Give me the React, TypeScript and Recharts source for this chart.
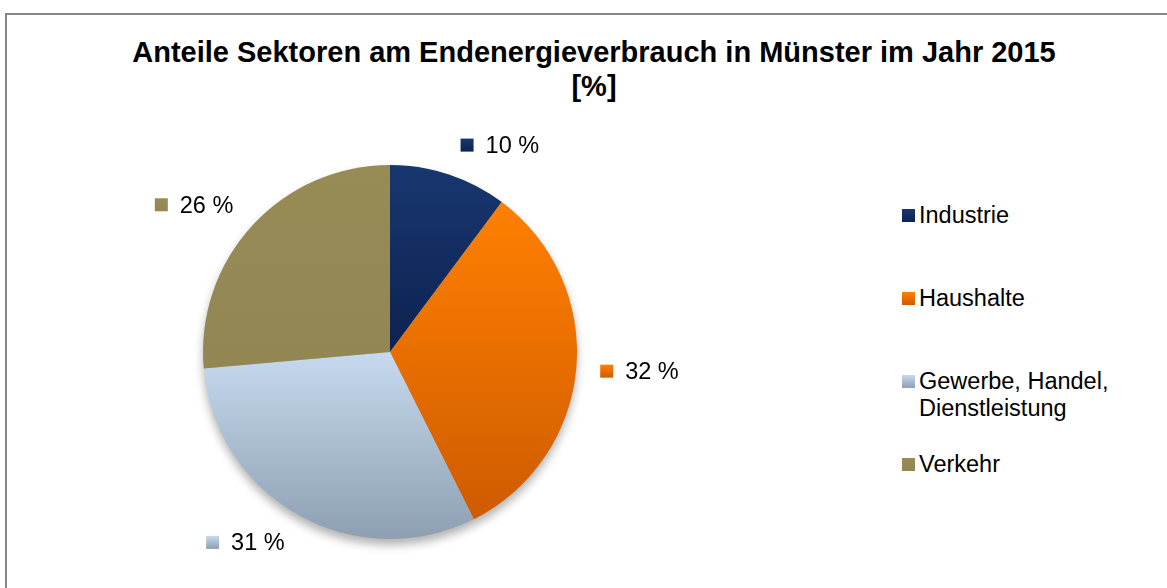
import React from 'react';
import { PieChart, Pie, Cell, Legend } from 'recharts';

// Endenergieverbrauch Münster 2015, Anteile in %
const sectors = ['Industrie', 'Haushalte', 'Gewerbe, Handel, Dienstleistung', 'Verkehr'];
const shares = [10.2, 32.4, 31.0, 26.4];

const topColors = ['#18376f', '#ff8000', '#c6d9ee', '#978c56'];
const bottomColors = ['#0d2251', '#cf5b00', '#8e9fb2', '#928753'];

const W = 1167;
const H = 588;
const CX = 390;
const CY = 352;
const R = 187;
const FONT = '"Liberation Sans", Arial, sans-serif';

const pieData = sectors.map((name, i) => ({ name, value: shares[i] }));

const RAD = Math.PI / 180;

// label block (marker + text) sits just outside the rim, pushed away sideways
const renderLabel = (props: any) => {
  const { cx, cy, midAngle, outerRadius, index, value } = props;
  const dx = Math.cos(-midAngle * RAD);
  const dy = Math.sin(-midAngle * RAD);
  const px = cx + (outerRadius + 18) * dx;
  const py = cy + (outerRadius + 18) * dy;
  const w = 78;
  const h = 26;
  const centerX = px + Math.sign(dx) * (w / 2 + 6);
  const centerY = py + dy * h / 2;
  const bx = centerX - w / 2;
  return (
    <g key={`lbl-${index}`}>
      <rect x={bx} y={centerY - 6.5} width={13} height={13} fill={`url(#grad-${index})`} />
      <text
        x={bx + 25}
        y={centerY}
        dominantBaseline="central"
        fontFamily={FONT}
        fontSize={23.5}
        fill="#000"
      >
        {`${Math.round(value)} %`}
      </text>
    </g>
  );
};

const renderLegend = () => (
  <div style={{ fontFamily: FONT, fontSize: 23.5, color: '#000' }}>
    {sectors.map((name, i) => (
      <div key={name} style={{ height: 83, display: 'flex', alignItems: 'flex-start' }}>
        <span
          style={{
            display: 'inline-block',
            width: 13,
            height: 13,
            marginTop: 7,
            marginLeft: 2,
            marginRight: 4,
            flex: 'none',
            background: `linear-gradient(${topColors[i]}, ${bottomColors[i]})`
          }}
        />
        <span style={{ lineHeight: '27px', maxWidth: 230 }}>{name}</span>
      </div>
    ))}
  </div>
);

export default function App() {
  return (
    <div style={{ position: 'absolute', left: 0, top: 0, width: W, height: H, overflow: 'hidden', background: '#fff' }}>
      <svg width={0} height={0} style={{ position: 'absolute' }}>
        <defs>
          {sectors.map((_, i) => (
            <linearGradient key={i} id={`grad-${i}`} x1="0" y1="0" x2="0" y2="1">
              <stop offset="0%" stopColor={topColors[i]} />
              <stop offset="100%" stopColor={bottomColors[i]} />
            </linearGradient>
          ))}
          <filter id="pieShadow" x="-20%" y="-20%" width="140%" height="140%">
            <feOffset dx="0" dy="3" />
            <feGaussianBlur stdDeviation="3" />
          </filter>
        </defs>
      </svg>
      <style>{`.pie-shadow { filter: url(#pieShadow); }`}</style>

      {/* chart frame, runs off the right and bottom edges */}
      <div
        style={{
          position: 'absolute',
          left: 5,
          top: 13,
          width: W + 20,
          height: H + 20,
          borderTop: '2px solid #878787',
          borderLeft: '2px solid #878787'
        }}
      />

      <div
        style={{
          position: 'absolute',
          left: 0,
          top: 35,
          width: 1188,
          textAlign: 'center',
          fontFamily: FONT,
          fontWeight: 'bold',
          fontSize: 29,
          lineHeight: '34px',
          color: '#000'
        }}
      >
        Anteile Sektoren am Endenergieverbrauch in Münster im Jahr 2015
        <br />
        [%]
      </div>

      <div style={{ position: 'absolute', left: 0, top: 0 }}>
        <PieChart width={W} height={H} margin={{ top: 0, right: 0, bottom: 0, left: 0 }}>
          <Pie
            data={pieData}
            dataKey="value"
            nameKey="name"
            cx={CX}
            cy={CY}
            outerRadius={R}
            startAngle={90}
            endAngle={-270}
            stroke="none"
            fill="#000"
            fillOpacity={0.3}
            className="pie-shadow"
            legendType="none"
            isAnimationActive={false}
          />
          <Pie
            data={pieData}
            dataKey="value"
            nameKey="name"
            cx={CX}
            cy={CY}
            outerRadius={R}
            startAngle={90}
            endAngle={-270}
            stroke="none"
            label={renderLabel}
            labelLine={false}
            isAnimationActive={false}
          >
            {pieData.map((_, i) => (
              <Cell key={i} fill={`url(#grad-${i})`} />
            ))}
          </Pie>
          <Legend
            content={renderLegend}
            layout="vertical"
            align="right"
            verticalAlign="top"
            wrapperStyle={{ position: 'absolute', left: 900, top: 202, width: 260 }}
          />
        </PieChart>
      </div>
    </div>
  );
}
